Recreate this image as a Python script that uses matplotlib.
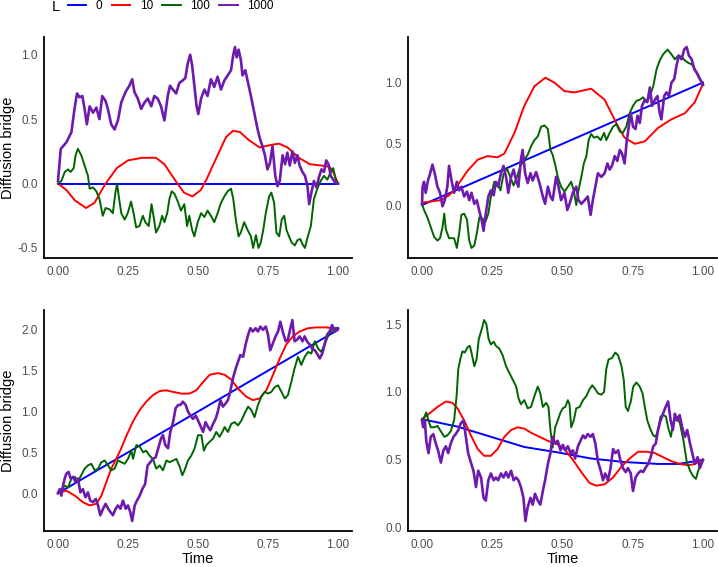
import matplotlib
matplotlib.use("Agg")
import matplotlib.pyplot as plt
from matplotlib.lines import Line2D
from matplotlib.ticker import MultipleLocator, FormatStrFormatter

plt.rcParams['font.family'] = ['Liberation Sans', 'DejaVu Sans']
plt.rcParams['axes.unicode_minus'] = False

# ---------------- data: (time, value) ----------------
levels = ["0", "10", "100", "1000"]
colors = ["#0000FF", "#FF0000", "#006400", "#6E1AAE"]

# Panel 1 (top-left)
p1_L0 = [(0, 0.0), (1, 0.0)]
p1_L10 = [(0, 0.0), (0.03, -0.05), (0.06, -0.13), (0.10, -0.19), (0.13, -0.15), (0.17, 0.0),
          (0.21, 0.12), (0.25, 0.18), (0.30, 0.2), (0.35, 0.2), (0.38, 0.15), (0.42, 0.02),
          (0.45, -0.07), (0.48, -0.1), (0.51, -0.05), (0.53, 0.03), (0.57, 0.22), (0.60, 0.36),
          (0.625, 0.41), (0.65, 0.40), (0.68, 0.34), (0.72, 0.28), (0.76, 0.30), (0.79, 0.31),
          (0.82, 0.28), (0.86, 0.20), (0.90, 0.15), (0.94, 0.14), (0.97, 0.13), (0.985, 0.08),
          (1.0, 0.0)]
p1_L100 = [(0, 0), (0.012, 0.02), (0.024, 0.09), (0.036, 0.11), (0.045, 0.09), (0.056, 0.12),
           (0.063, 0.22), (0.071, 0.27), (0.083, 0.22), (0.095, 0.14), (0.107, 0.06), (0.113, -0.04),
           (0.125, -0.03), (0.137, -0.06), (0.148, -0.12), (0.160, -0.25), (0.170, -0.19),
           (0.184, -0.20), (0.196, -0.23), (0.205, -0.07), (0.211, 0.0), (0.217, -0.10),
           (0.226, -0.23), (0.238, -0.28), (0.249, -0.23), (0.261, -0.14), (0.270, -0.23),
           (0.279, -0.34), (0.291, -0.33), (0.303, -0.25), (0.312, -0.30), (0.324, -0.33),
           (0.334, -0.16), (0.341, -0.25), (0.350, -0.38), (0.362, -0.33), (0.372, -0.25),
           (0.380, -0.30), (0.390, -0.23), (0.398, -0.12), (0.406, -0.06), (0.416, -0.08),
           (0.428, -0.14), (0.439, -0.21), (0.451, -0.16), (0.461, -0.33), (0.469, -0.25),
           (0.479, -0.36), (0.487, -0.41), (0.499, -0.30), (0.511, -0.23), (0.523, -0.26),
           (0.534, -0.21), (0.546, -0.25), (0.558, -0.30), (0.570, -0.23), (0.582, -0.15),
           (0.594, -0.10), (0.606, -0.06), (0.618, -0.04), (0.626, -0.12), (0.635, -0.28),
           (0.645, -0.41), (0.653, -0.38), (0.665, -0.30), (0.677, -0.36), (0.689, -0.41),
           (0.697, -0.50), (0.707, -0.40), (0.716, -0.50), (0.724, -0.46), (0.733, -0.36),
           (0.742, -0.23), (0.754, -0.10), (0.762, -0.07), (0.772, -0.15), (0.780, -0.38),
           (0.790, -0.41), (0.799, -0.28), (0.808, -0.25), (0.816, -0.36), (0.825, -0.41),
           (0.835, -0.46), (0.846, -0.48), (0.855, -0.44), (0.865, -0.43), (0.873, -0.47),
           (0.882, -0.50), (0.891, -0.42), (0.903, -0.33), (0.914, -0.12), (0.926, -0.04),
           (0.938, 0.02), (0.950, 0.06), (0.962, 0.03), (0.974, 0.09), (0.983, 0.12),
           (0.992, 0.03), (1.0, 0.0)]
p1_L1000 = [(0, 0.02), (0.010, 0.27), (0.030, 0.32), (0.048, 0.40), (0.059, 0.58), (0.068, 0.70),
            (0.077, 0.67), (0.087, 0.68), (0.095, 0.58), (0.103, 0.46), (0.113, 0.60), (0.125, 0.55),
            (0.137, 0.59), (0.148, 0.50), (0.158, 0.68), (0.170, 0.64), (0.178, 0.58), (0.190, 0.46),
            (0.202, 0.42), (0.214, 0.49), (0.226, 0.63), (0.241, 0.71), (0.255, 0.76), (0.265, 0.81),
            (0.273, 0.71), (0.285, 0.66), (0.297, 0.58), (0.309, 0.63), (0.321, 0.66), (0.333, 0.60),
            (0.344, 0.68), (0.356, 0.66), (0.368, 0.60), (0.380, 0.49), (0.392, 0.68), (0.400, 0.76),
            (0.410, 0.73), (0.422, 0.70), (0.433, 0.78), (0.445, 0.80), (0.455, 0.82), (0.463, 0.93),
            (0.472, 1.00), (0.479, 0.92), (0.487, 0.76), (0.495, 0.60), (0.501, 0.54), (0.511, 0.66),
            (0.523, 0.73), (0.534, 0.68), (0.546, 0.81), (0.558, 0.75), (0.570, 0.83), (0.582, 0.73),
            (0.594, 0.80), (0.606, 0.84), (0.618, 0.88), (0.626, 1.00), (0.632, 1.06), (0.638, 0.98),
            (0.645, 1.04), (0.653, 0.96), (0.659, 0.84), (0.669, 0.88), (0.677, 0.80), (0.689, 0.68),
            (0.701, 0.55), (0.713, 0.42), (0.721, 0.35), (0.730, 0.29), (0.739, 0.22), (0.748, 0.11),
            (0.757, 0.16), (0.766, 0.29), (0.776, 0.06), (0.784, -0.02), (0.792, 0.02), (0.802, 0.22),
            (0.811, 0.15), (0.819, 0.24), (0.828, 0.14), (0.837, 0.25), (0.846, 0.16), (0.855, 0.22),
            (0.863, 0.14), (0.873, 0.09), (0.882, 0.06), (0.891, -0.02), (0.897, -0.16), (0.905, -0.07),
            (0.914, 0.02), (0.923, -0.03), (0.932, 0.05), (0.941, 0.11), (0.950, 0.09), (0.958, 0.18),
            (0.966, 0.15), (0.974, 0.06), (0.983, 0.03), (0.992, 0.0), (1.0, 0.0)]

# Panel 2 (top-right)
p2_L0 = [(0, 0.0), (1, 1.0)]
p2_L10 = [(0, 0.02), (0.067, 0.04), (0.096, 0.08), (0.114, 0.12), (0.138, 0.20), (0.162, 0.28),
          (0.198, 0.37), (0.233, 0.40), (0.269, 0.39), (0.293, 0.42), (0.329, 0.59), (0.364, 0.81),
          (0.40, 0.97), (0.439, 1.04), (0.471, 1.00), (0.507, 0.93), (0.543, 0.92), (0.602, 0.95),
          (0.65, 0.86), (0.674, 0.75), (0.698, 0.64), (0.721, 0.55), (0.757, 0.50), (0.793, 0.52),
          (0.840, 0.63), (0.888, 0.70), (0.936, 0.75), (0.971, 0.84), (1.0, 0.99)]
p2_L100 = [(0, 0.01), (0.007, -0.04), (0.019, -0.10), (0.031, -0.18), (0.043, -0.26), (0.055, -0.29),
           (0.064, -0.27), (0.073, -0.18), (0.079, -0.07), (0.085, -0.20), (0.096, -0.27), (0.114, -0.27),
           (0.124, -0.35), (0.132, -0.23), (0.140, -0.08), (0.150, -0.07), (0.160, -0.12), (0.168, -0.29),
           (0.176, -0.35), (0.186, -0.33), (0.195, -0.23), (0.204, -0.10), (0.215, -0.11), (0.225, -0.14),
           (0.236, -0.07), (0.245, 0.07), (0.257, 0.19), (0.267, 0.18), (0.279, 0.12), (0.290, 0.25),
           (0.302, 0.30), (0.314, 0.23), (0.326, 0.16), (0.338, 0.23), (0.350, 0.32), (0.364, 0.37),
           (0.376, 0.41), (0.388, 0.48), (0.400, 0.53), (0.412, 0.56), (0.424, 0.64), (0.436, 0.65),
           (0.448, 0.62), (0.457, 0.45), (0.465, 0.41), (0.475, 0.32), (0.483, 0.23), (0.495, 0.15),
           (0.507, 0.11), (0.519, 0.15), (0.531, 0.19), (0.540, 0.12), (0.549, 0.0), (0.557, 0.12),
           (0.567, 0.23), (0.576, 0.34), (0.585, 0.40), (0.593, 0.53), (0.602, 0.58), (0.612, 0.55),
           (0.624, 0.56), (0.636, 0.53), (0.648, 0.59), (0.656, 0.53), (0.668, 0.59), (0.680, 0.64),
           (0.692, 0.66), (0.704, 0.60), (0.715, 0.59), (0.727, 0.64), (0.739, 0.75), (0.751, 0.81),
           (0.763, 0.85), (0.775, 0.86), (0.787, 0.88), (0.799, 0.84), (0.811, 0.89), (0.823, 0.97),
           (0.835, 1.11), (0.846, 1.18), (0.858, 1.23), (0.874, 1.27), (0.888, 1.23), (0.900, 1.19),
           (0.912, 1.22), (0.924, 1.21), (0.936, 1.18), (0.948, 1.16), (0.960, 1.15), (0.971, 1.11),
           (0.983, 1.05), (1.0, 0.99)]
p2_L1000 = [(0, 0.01), (0.002, 0.15), (0.007, 0.19), (0.013, 0.10), (0.021, 0.20), (0.029, 0.26),
            (0.037, 0.33), (0.045, 0.26), (0.055, 0.15), (0.064, 0.10), (0.073, -0.01), (0.081, 0.04),
            (0.090, 0.15), (0.096, 0.32), (0.105, 0.20), (0.114, 0.10), (0.124, 0.19), (0.132, 0.12),
            (0.140, 0.15), (0.150, 0.07), (0.160, 0.11), (0.168, 0.04), (0.176, 0.10), (0.186, 0.01),
            (0.195, 0.04), (0.204, -0.05), (0.212, -0.12), (0.219, -0.21), (0.227, -0.07), (0.236, 0.07),
            (0.245, 0.12), (0.255, 0.08), (0.263, 0.19), (0.271, 0.15), (0.281, 0.26), (0.290, 0.32),
            (0.299, 0.23), (0.307, 0.10), (0.317, 0.23), (0.326, 0.29), (0.335, 0.20), (0.343, 0.15),
            (0.352, 0.37), (0.358, 0.45), (0.367, 0.26), (0.376, 0.18), (0.386, 0.26), (0.394, 0.20),
            (0.406, 0.27), (0.418, 0.18), (0.430, 0.07), (0.438, 0.01), (0.448, 0.15), (0.457, 0.07),
            (0.465, 0.04), (0.477, 0.23), (0.486, 0.15), (0.495, 0.04), (0.507, 0.10), (0.517, -0.04),
            (0.525, 0.01), (0.537, 0.10), (0.549, 0.15), (0.557, 0.04), (0.567, 0.01), (0.579, 0.04),
            (0.590, 0.07), (0.600, -0.08), (0.608, 0.04), (0.617, 0.15), (0.626, 0.26), (0.638, 0.23),
            (0.650, 0.26), (0.660, 0.34), (0.668, 0.29), (0.676, 0.32), (0.686, 0.40), (0.695, 0.36),
            (0.704, 0.45), (0.712, 0.42), (0.721, 0.34), (0.729, 0.53), (0.736, 0.64), (0.743, 0.75),
            (0.751, 0.64), (0.760, 0.62), (0.767, 0.73), (0.775, 0.67), (0.783, 0.81), (0.793, 0.86),
            (0.802, 0.84), (0.811, 0.96), (0.819, 0.81), (0.829, 0.86), (0.838, 0.89), (0.846, 0.75),
            (0.852, 0.70), (0.862, 0.89), (0.870, 0.92), (0.879, 0.89), (0.888, 1.00), (0.898, 1.03),
            (0.906, 1.14), (0.914, 1.22), (0.924, 1.19), (0.933, 1.27), (0.942, 1.29), (0.950, 1.22),
            (0.960, 1.19), (0.969, 1.11), (0.981, 1.07), (0.989, 1.03), (1.0, 0.98)]

# Panel 3 (bottom-left)
p3_L0 = [(0, 0.0), (1, 2.0)]
p3_L10 = [(0, 0.01), (0.030, 0.03), (0.060, -0.03), (0.089, -0.11), (0.113, -0.15), (0.137, -0.13),
          (0.155, -0.03), (0.173, 0.14), (0.190, 0.30), (0.208, 0.42), (0.226, 0.55), (0.244, 0.70),
          (0.268, 0.88), (0.292, 1.02), (0.315, 1.12), (0.339, 1.20), (0.363, 1.25), (0.387, 1.26),
          (0.411, 1.24), (0.440, 1.22), (0.470, 1.22), (0.494, 1.26), (0.518, 1.36), (0.542, 1.45),
          (0.571, 1.47), (0.595, 1.45), (0.619, 1.39), (0.643, 1.28), (0.673, 1.18), (0.696, 1.14),
          (0.720, 1.16), (0.744, 1.26), (0.768, 1.45), (0.792, 1.65), (0.815, 1.82), (0.839, 1.92),
          (0.863, 1.98), (0.893, 2.02), (0.923, 2.03), (0.958, 2.03), (0.982, 2.02), (1.0, 2.02)]
p3_L100 = [(0, 0.0), (0.012, 0.05), (0.024, 0.09), (0.036, 0.07), (0.048, 0.18), (0.060, 0.20),
           (0.071, 0.14), (0.083, 0.22), (0.095, 0.30), (0.107, 0.34), (0.119, 0.36), (0.131, 0.28),
           (0.143, 0.30), (0.155, 0.38), (0.167, 0.40), (0.179, 0.34), (0.190, 0.28), (0.202, 0.30),
           (0.214, 0.40), (0.226, 0.38), (0.238, 0.36), (0.250, 0.42), (0.262, 0.52), (0.268, 0.42),
           (0.280, 0.59), (0.292, 0.57), (0.304, 0.50), (0.315, 0.52), (0.327, 0.46), (0.339, 0.42),
           (0.351, 0.30), (0.363, 0.34), (0.375, 0.28), (0.387, 0.40), (0.399, 0.38), (0.411, 0.40),
           (0.423, 0.42), (0.435, 0.32), (0.444, 0.22), (0.452, 0.28), (0.464, 0.40), (0.476, 0.46),
           (0.488, 0.55), (0.500, 0.71), (0.512, 0.71), (0.521, 0.52), (0.530, 0.59), (0.542, 0.63),
           (0.554, 0.67), (0.565, 0.75), (0.577, 0.69), (0.587, 0.75), (0.595, 0.81), (0.607, 0.75),
           (0.619, 0.85), (0.631, 0.87), (0.643, 0.83), (0.655, 0.89), (0.667, 0.98), (0.679, 1.06),
           (0.690, 1.02), (0.702, 0.93), (0.714, 1.08), (0.726, 1.18), (0.738, 1.24), (0.750, 1.22),
           (0.762, 1.24), (0.774, 1.30), (0.786, 1.32), (0.798, 1.24), (0.810, 1.16), (0.821, 1.20),
           (0.833, 1.36), (0.845, 1.53), (0.857, 1.67), (0.869, 1.57), (0.881, 1.67), (0.893, 1.73),
           (0.905, 1.71), (0.917, 1.86), (0.929, 1.77), (0.940, 1.73), (0.952, 1.82), (0.964, 1.92),
           (0.976, 1.98), (0.988, 2.02), (1.0, 2.02)]
p3_L1000 = [(0, 0.0), (0.006, 0.05), (0.012, -0.03), (0.018, 0.09), (0.024, 0.18), (0.030, 0.24),
            (0.038, 0.26), (0.045, 0.18), (0.054, 0.20), (0.062, 0.14), (0.071, 0.18), (0.080, 0.01),
            (0.089, 0.05), (0.098, -0.05), (0.107, 0.01), (0.115, -0.09), (0.125, -0.11), (0.135, -0.07),
            (0.143, -0.15), (0.151, -0.27), (0.161, -0.19), (0.170, -0.13), (0.179, -0.19), (0.187, -0.23),
            (0.196, -0.27), (0.206, -0.19), (0.214, -0.15), (0.223, -0.19), (0.232, -0.09), (0.242, -0.19),
            (0.250, -0.15), (0.258, -0.23), (0.265, -0.34), (0.274, -0.15), (0.282, -0.09), (0.292, -0.03),
            (0.301, 0.05), (0.311, 0.11), (0.320, 0.34), (0.330, 0.38), (0.339, 0.42), (0.349, 0.44),
            (0.358, 0.55), (0.368, 0.67), (0.375, 0.71), (0.383, 0.59), (0.393, 0.55), (0.401, 0.75),
            (0.411, 0.87), (0.420, 1.04), (0.429, 1.08), (0.437, 1.08), (0.446, 1.12), (0.456, 1.08),
            (0.464, 1.00), (0.473, 0.95), (0.482, 0.91), (0.492, 0.95), (0.500, 0.89), (0.508, 0.83),
            (0.518, 0.75), (0.527, 0.87), (0.536, 0.81), (0.544, 0.77), (0.554, 0.85), (0.563, 0.91),
            (0.571, 1.00), (0.580, 1.14), (0.589, 1.06), (0.599, 1.10), (0.607, 1.14), (0.615, 1.24),
            (0.625, 1.41), (0.635, 1.53), (0.643, 1.61), (0.651, 1.69), (0.661, 1.67), (0.670, 1.82),
            (0.679, 1.94), (0.687, 2.02), (0.696, 1.98), (0.706, 2.02), (0.714, 1.98), (0.723, 2.04),
            (0.732, 2.00), (0.742, 2.04), (0.750, 1.94), (0.758, 1.75), (0.768, 1.84), (0.777, 1.92),
            (0.786, 1.98), (0.794, 2.10), (0.804, 1.96), (0.813, 1.86), (0.821, 1.88), (0.830, 2.02),
            (0.837, 2.12), (0.845, 1.86), (0.854, 1.88), (0.863, 1.92), (0.873, 1.86), (0.881, 1.92),
            (0.889, 1.86), (0.899, 1.82), (0.908, 1.77), (0.917, 1.75), (0.925, 1.71), (0.935, 1.65),
            (0.944, 1.71), (0.952, 1.82), (0.961, 1.94), (0.970, 1.98), (0.979, 2.06), (0.988, 1.98),
            (1.0, 2.02)]

# Panel 4 (bottom-right)
p4_L0 = [(0, 0.80), (0.126, 0.745), (0.245, 0.67), (0.364, 0.595), (0.483, 0.555), (0.602, 0.51),
         (0.721, 0.484), (0.840, 0.47), (0.912, 0.47), (1.0, 0.50)]
p4_L10 = [(0, 0.80), (0.025, 0.84), (0.055, 0.89), (0.085, 0.93), (0.108, 0.92), (0.126, 0.88),
          (0.150, 0.79), (0.174, 0.68), (0.198, 0.58), (0.221, 0.53), (0.245, 0.53), (0.269, 0.58),
          (0.293, 0.67), (0.317, 0.72), (0.340, 0.74), (0.364, 0.73), (0.388, 0.70), (0.418, 0.67),
          (0.448, 0.64), (0.477, 0.62), (0.507, 0.58), (0.537, 0.50), (0.567, 0.41), (0.596, 0.33),
          (0.620, 0.31), (0.650, 0.32), (0.680, 0.37), (0.710, 0.45), (0.739, 0.51), (0.769, 0.56),
          (0.799, 0.56), (0.829, 0.55), (0.858, 0.52), (0.888, 0.49), (0.918, 0.47), (0.948, 0.46),
          (0.971, 0.47), (1.0, 0.50)]
p4_L100 = [(0, 0.80), (0.007, 0.81), (0.015, 0.85), (0.023, 0.79), (0.031, 0.74), (0.043, 0.74),
           (0.055, 0.75), (0.067, 0.71), (0.079, 0.67), (0.090, 0.68), (0.102, 0.71), (0.114, 0.79),
           (0.123, 0.97), (0.129, 1.17), (0.136, 1.24), (0.144, 1.30), (0.152, 1.29), (0.162, 1.33),
           (0.170, 1.34), (0.177, 1.28), (0.186, 1.19), (0.194, 1.24), (0.202, 1.39), (0.212, 1.46),
           (0.221, 1.53), (0.229, 1.50), (0.237, 1.39), (0.245, 1.35), (0.255, 1.37), (0.263, 1.34),
           (0.275, 1.32), (0.287, 1.27), (0.299, 1.19), (0.311, 1.14), (0.323, 1.09), (0.335, 1.04),
           (0.344, 0.95), (0.352, 0.91), (0.364, 0.94), (0.376, 0.88), (0.388, 0.89), (0.400, 0.97),
           (0.412, 1.04), (0.421, 0.99), (0.430, 0.89), (0.442, 0.92), (0.450, 0.89), (0.457, 0.72),
           (0.465, 0.59), (0.474, 0.74), (0.483, 0.79), (0.493, 0.85), (0.501, 0.88), (0.510, 0.89),
           (0.519, 0.94), (0.525, 0.91), (0.531, 0.74), (0.540, 0.79), (0.549, 0.88), (0.561, 0.89),
           (0.573, 0.94), (0.585, 0.97), (0.596, 1.02), (0.606, 1.05), (0.617, 1.02), (0.626, 0.99),
           (0.638, 0.98), (0.648, 1.00), (0.656, 1.17), (0.664, 1.24), (0.676, 1.25), (0.688, 1.29),
           (0.698, 1.27), (0.710, 1.19), (0.718, 1.09), (0.725, 0.89), (0.733, 0.86), (0.743, 0.93),
           (0.752, 1.04), (0.763, 1.07), (0.775, 1.04), (0.785, 0.99), (0.793, 0.89), (0.802, 0.79),
           (0.812, 0.73), (0.823, 0.68), (0.832, 0.67), (0.840, 0.72), (0.849, 0.82), (0.858, 0.83),
           (0.868, 0.82), (0.876, 0.74), (0.886, 0.67), (0.894, 0.77), (0.906, 0.82), (0.918, 0.77),
           (0.930, 0.65), (0.942, 0.49), (0.954, 0.42), (0.965, 0.38), (0.975, 0.36), (0.983, 0.42),
           (0.993, 0.47), (1.0, 0.50)]
p4_L1000 = [(0, 0.79), (0.004, 0.74), (0.010, 0.79), (0.015, 0.64), (0.023, 0.55), (0.031, 0.67),
            (0.040, 0.69), (0.049, 0.62), (0.057, 0.57), (0.067, 0.48), (0.076, 0.57), (0.085, 0.60),
            (0.093, 0.55), (0.102, 0.62), (0.112, 0.67), (0.120, 0.69), (0.129, 0.72), (0.138, 0.77),
            (0.148, 0.79), (0.156, 0.67), (0.164, 0.55), (0.174, 0.48), (0.183, 0.42), (0.192, 0.30),
            (0.200, 0.42), (0.210, 0.37), (0.219, 0.22), (0.227, 0.20), (0.236, 0.35), (0.245, 0.40),
            (0.255, 0.35), (0.263, 0.37), (0.271, 0.35), (0.281, 0.40), (0.290, 0.37), (0.299, 0.41),
            (0.307, 0.37), (0.317, 0.42), (0.326, 0.35), (0.335, 0.37), (0.343, 0.35), (0.352, 0.30),
            (0.361, 0.22), (0.368, 0.05), (0.376, 0.15), (0.386, 0.22), (0.394, 0.17), (0.402, 0.25),
            (0.412, 0.20), (0.421, 0.17), (0.430, 0.27), (0.438, 0.35), (0.448, 0.47), (0.457, 0.55),
            (0.465, 0.67), (0.474, 0.62), (0.483, 0.64), (0.493, 0.57), (0.501, 0.61), (0.510, 0.57),
            (0.519, 0.60), (0.529, 0.55), (0.537, 0.57), (0.545, 0.51), (0.555, 0.60), (0.564, 0.64),
            (0.573, 0.68), (0.581, 0.66), (0.590, 0.69), (0.600, 0.67), (0.608, 0.69), (0.617, 0.62),
            (0.626, 0.49), (0.636, 0.42), (0.644, 0.35), (0.652, 0.40), (0.662, 0.35), (0.671, 0.44),
            (0.680, 0.58), (0.688, 0.55), (0.698, 0.57), (0.707, 0.49), (0.715, 0.44), (0.725, 0.41),
            (0.733, 0.44), (0.743, 0.40), (0.751, 0.27), (0.760, 0.37), (0.769, 0.40), (0.779, 0.42),
            (0.787, 0.41), (0.795, 0.44), (0.805, 0.47), (0.814, 0.52), (0.823, 0.60), (0.832, 0.62),
            (0.840, 0.72), (0.849, 0.79), (0.858, 0.84), (0.867, 0.89), (0.876, 0.93), (0.885, 0.79),
            (0.893, 0.72), (0.900, 0.84), (0.908, 0.79), (0.917, 0.83), (0.926, 0.74), (0.936, 0.67),
            (0.944, 0.72), (0.954, 0.62), (0.962, 0.55), (0.971, 0.47), (0.981, 0.52), (0.989, 0.44),
            (1.0, 0.50)]

x_ticks = [0.0, 0.25, 0.5, 0.75, 1.0]
y_label = "Diffusion bridge"
x_label = "Time"
legend_title = "L"

panels = [
    [p1_L0, p1_L10, p1_L100, p1_L1000],
    [p2_L0, p2_L10, p2_L100, p2_L1000],
    [p3_L0, p3_L10, p3_L100, p3_L1000],
    [p4_L0, p4_L10, p4_L100, p4_L1000],
]

# ---------------- layout ----------------
W, H = 718, 567
fig = plt.figure(figsize=(W / 100, H / 100), dpi=100)

def fr(left, top, right, bottom):
    return [left / W, 1 - bottom / H, (right - left) / W, (bottom - top) / H]

boxes = [fr(44, 37, 352, 258), fr(408, 37, 717, 258),
         fr(44, 310, 352, 531), fr(408, 310, 717, 531)]
line_widths = [1.4, 1.4, 1.4, 1.9]
tick_grey = "#4D4D4D"

for box, series in zip(boxes, panels):
    ax = fig.add_axes(box)
    for pts, col, lw in zip(series, colors, line_widths):
        t = [p[0] for p in pts]
        v = [p[1] for p in pts]
        ax.plot(t, v, color=col, lw=lw, solid_joinstyle='round')
    ax.margins(x=0.05, y=0.05)
    for s in ("top", "right"):
        ax.spines[s].set_visible(False)
    for s in ("left", "bottom"):
        ax.spines[s].set_linewidth(1.3)
        ax.spines[s].set_color("black")
    ax.set_xticks(x_ticks)
    ax.xaxis.set_major_formatter(FormatStrFormatter("%.2f"))
    ax.yaxis.set_major_locator(MultipleLocator(0.5))
    ax.yaxis.set_major_formatter(FormatStrFormatter("%.1f"))
    ax.tick_params(axis="both", length=0, labelsize=8.5, labelcolor=tick_grey)
    ax.tick_params(axis="x", pad=5.5)
    ax.tick_params(axis="y", pad=4.5)
    ax.set_facecolor("none")

# axis titles
for yc in (147.5, 420.5):
    fig.text(8.5 / W, 1 - yc / H, y_label, rotation=90, ha="center", va="center",
             fontsize=10.5, color="black")
for xc in (198, 562.5):
    fig.text(xc / W, 0.6 / H, x_label, ha="center", va="bottom", fontsize=10.5, color="black")

# legend
fig.text(52 / W, 1 - 10.7 / H, legend_title, ha="left", va="baseline", fontsize=10.5)
handles = [Line2D([], [], color=c, lw=1.4) for c in colors]
fig.legend(handles, levels, ncol=4, loc="upper left", bbox_to_anchor=(68 / W, 1.0),
           frameon=False, fontsize=8.5, handlelength=1.55, handletextpad=0.8,
           columnspacing=0.8, borderpad=0, borderaxespad=0)

fig.savefig("out.png", dpi=100)
